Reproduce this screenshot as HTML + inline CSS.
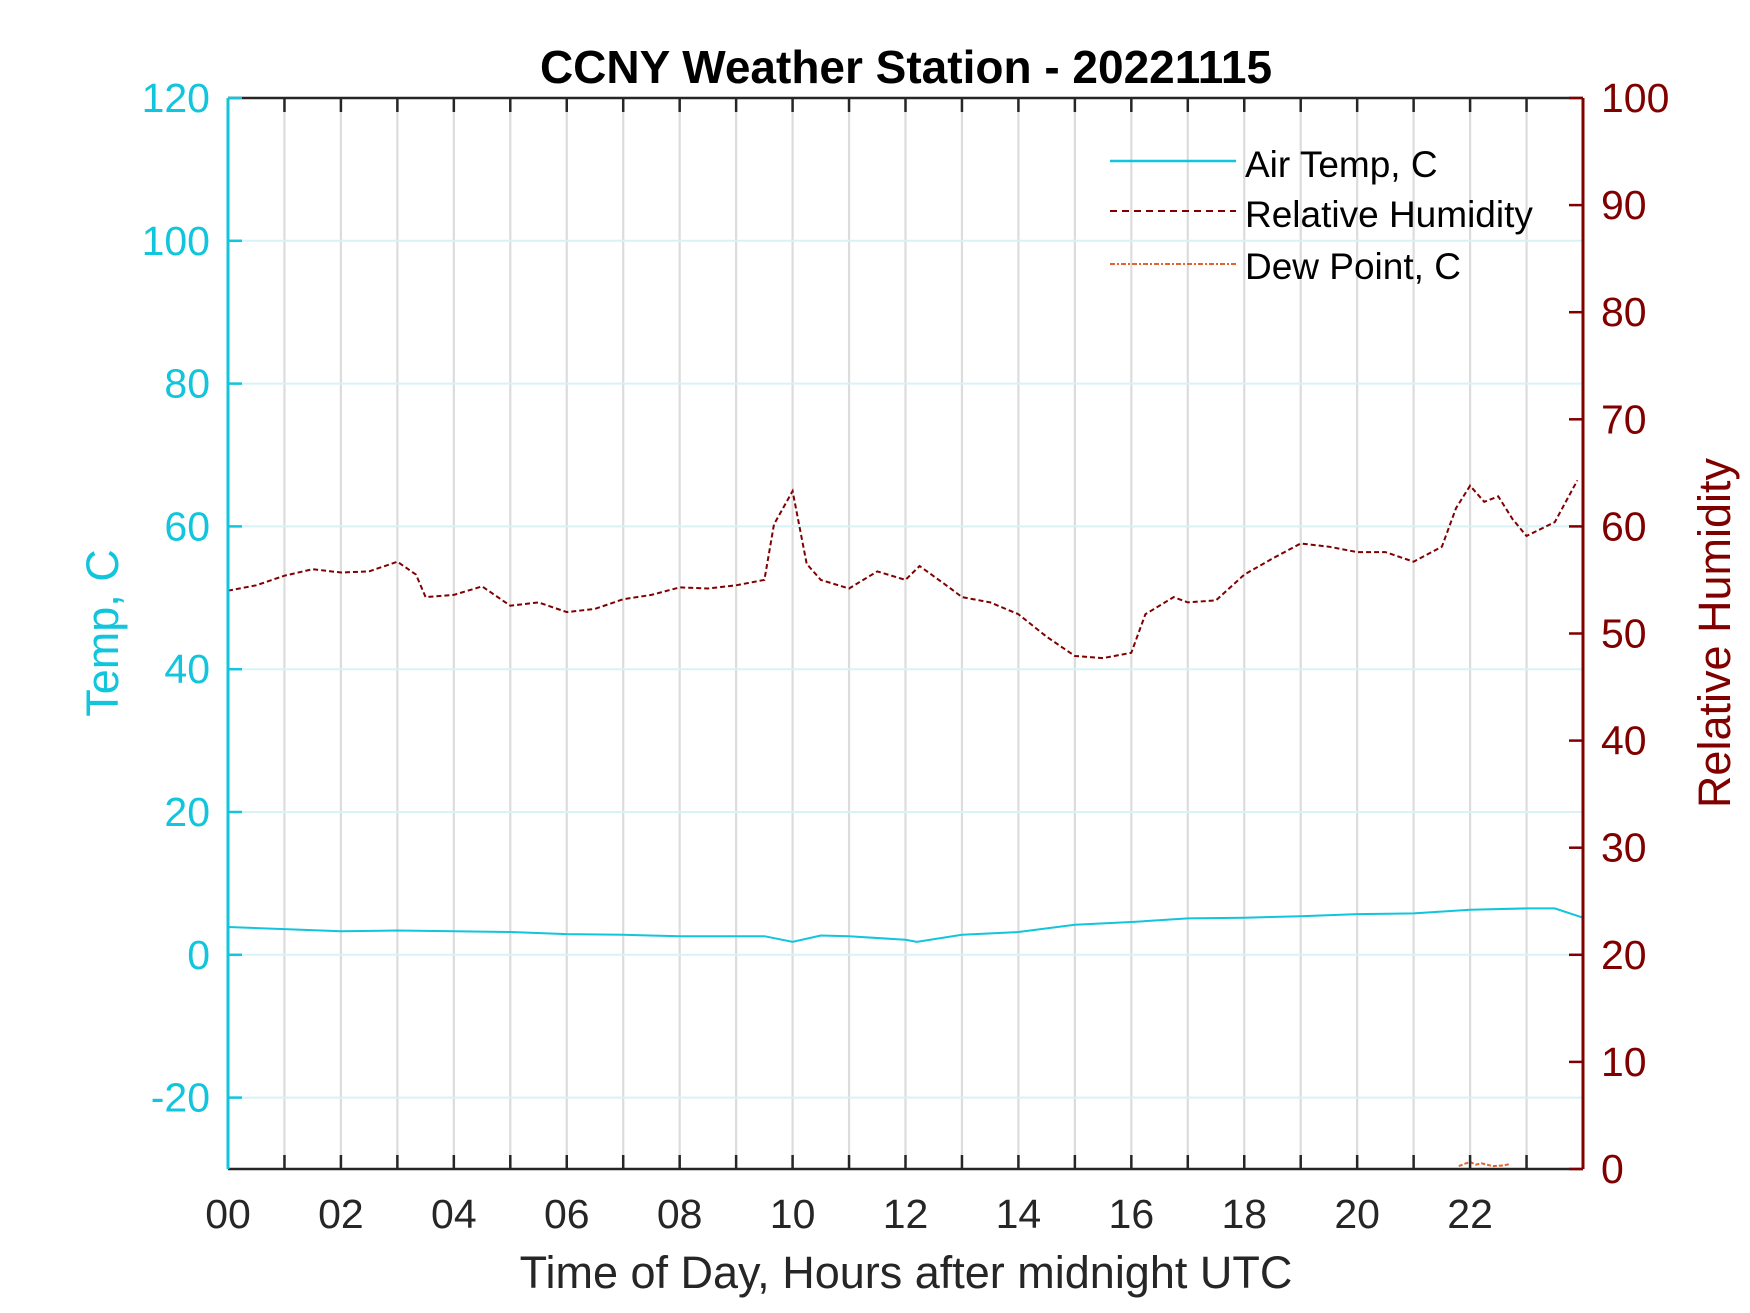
<!DOCTYPE html>
<html><head><meta charset="utf-8"><style>
html,body{margin:0;padding:0;background:#fff;}
svg{display:block;font-family:"Liberation Sans",Arial,sans-serif;}
</style></head><body>
<svg id="chart" width="1750" height="1313" viewBox="0 0 1750 1313" xmlns="http://www.w3.org/2000/svg">
<rect width="1750" height="1313" fill="#fff"/>
<g id="grid"></g>
<g id="series"></g>
<g id="axes"></g>
<text x="906" y="83" text-anchor="middle" font-size="46" font-weight="bold" fill="#000">CCNY Weather Station - 20221115</text>
<text x="906" y="1288" text-anchor="middle" font-size="45" fill="#262626">Time of Day, Hours after midnight UTC</text>
<text transform="translate(118,633) rotate(-90)" text-anchor="middle" font-size="45" fill="#11c5dc">Temp, C</text>
<text transform="translate(1730,633) rotate(-90)" text-anchor="middle" font-size="45" fill="#800000">Relative Humidity</text>
<g>
<line x1="1110" y1="161" x2="1236" y2="161" stroke="#11c5dc" stroke-width="2.5"/>
<text x="1245" y="177" font-size="37" fill="#000">Air Temp, C</text>
<line x1="1110" y1="211" x2="1236" y2="211" stroke="#800000" stroke-width="2" stroke-dasharray="7,5"/>
<text x="1245" y="227" font-size="37" fill="#000">Relative Humidity</text>
<line x1="1110" y1="264" x2="1236" y2="264" stroke="#e2642a" stroke-width="2" stroke-dasharray="5,2,2,2"/>
<text x="1245" y="279" font-size="37" fill="#000">Dew Point, C</text>
</g>
</svg>
<script>
const rhHours=[0,0.5,1,1.5,2,2.5,3,3.33,3.5,4,4.5,5,5.5,6,6.5,7,7.5,8,8.5,9,9.5,9.67,10,10.25,10.5,11,11.5,12,12.25,12.75,13,13.5,14,14.5,15,15.5,16,16.25,16.75,17,17.5,18,18.5,19,19.5,20,20.5,21,21.5,21.75,22,22.25,22.5,22.75,23,23.5,23.9];
const rhValues=[54,54.5,55.4,56,55.7,55.8,56.7,55.5,53.4,53.6,54.4,52.6,52.9,52,52.3,53.2,53.6,54.3,54.2,54.5,55,60.2,63.3,56.5,55,54.2,55.8,55,56.3,54.4,53.4,52.9,51.8,49.7,47.9,47.7,48.2,51.8,53.4,52.9,53.1,55.5,57,58.4,58.1,57.6,57.6,56.7,58.1,61.7,63.8,62.3,62.8,60.7,59.1,60.4,64.3];
const tHours=[0,1,2,3,4,5,6,7,8,9,9.5,10,10.5,11,12,12.2,13,14,15,16,17,18,19,20,21,22,23,23.5,24];
const tValues=[3.9,3.6,3.3,3.4,3.3,3.2,2.9,2.8,2.6,2.6,2.6,1.8,2.7,2.6,2.1,1.8,2.8,3.2,4.2,4.6,5.1,5.2,5.4,5.7,5.8,6.3,6.5,6.5,5.2];
const dpHours=[21.8,21.9,22.0,22.1,22.2,22.4,22.6,22.7];
const dpValues=[-29.6,-29.3,-29.0,-29.4,-29.2,-29.6,-29.5,-29.3];
const xTicks=[0,2,4,6,8,10,12,14,16,18,20,22];
const xTickLabels=["00","02","04","06","08","10","12","14","16","18","20","22"];
const tTicks=[-20,0,20,40,60,80,100,120];
const rhTicks=[0,10,20,30,40,50,60,70,80,90,100];

const L=228,R=1583,T=98,B=1169;
const xs=h=>L+(h/24)*(R-L);
const yT=v=>B-(v+30)/150*(B-T);
const yR=v=>B-v/100*(B-T);
const NS="http://www.w3.org/2000/svg";
function mk(tag,attrs,parent){const e=document.createElementNS(NS,tag);for(const k in attrs)e.setAttribute(k,attrs[k]);parent.appendChild(e);return e;}
const gridG=document.getElementById('grid'),seriesG=document.getElementById('series'),axesG=document.getElementById('axes');

for(let h=1;h<24;h++){const l=mk('line',{x1:xs(h),x2:xs(h),y1:T,y2:B,stroke:'#dcdcdc','stroke-width':2.2},gridG);

}
tTicks.forEach(v=>{const l=mk('line',{x1:L,x2:R,y1:yT(v),y2:yT(v),stroke:'#d8f2f6','stroke-width':2},gridG);

});

function pathD(hs,vs,yf){return hs.map((h,i)=>(i?'L':'M')+xs(h).toFixed(1)+','+yf(vs[i]).toFixed(1)).join(' ');}
const pt=mk('path',{d:pathD(tHours,tValues,yT),fill:'none',stroke:'#11c5dc','stroke-width':2},seriesG);


const pr=mk('path',{d:pathD(rhHours,rhValues,yR),fill:'none',stroke:'#800000','stroke-width':2,'stroke-dasharray':'5,3'},seriesG);


const pd=mk('path',{d:pathD(dpHours,dpValues,yT),fill:'none',stroke:'#e2642a','stroke-width':2,'stroke-dasharray':'4,2'},seriesG);



const topLine=mk('line',{x1:L,x2:R,y1:T,y2:T,stroke:'#262626','stroke-width':2.5},axesG);


const botLine=mk('line',{x1:L,x2:R,y1:B,y2:B,stroke:'#262626','stroke-width':2.5},axesG);


for(let h=1;h<24;h++){
 const a=mk('line',{x1:xs(h),x2:xs(h),y1:T,y2:T+14,stroke:'#262626','stroke-width':2.5},axesG);
 
 
 const b=mk('line',{x1:xs(h),x2:xs(h),y1:B,y2:B-14,stroke:'#262626','stroke-width':2.5},axesG);
 
 
}
xTicks.forEach((h,i)=>{const t=mk('text',{x:xs(h),y:1228,'text-anchor':'middle','font-size':41,fill:'#262626'},axesG);t.textContent=xTickLabels[i];

});
const la=mk('line',{x1:L,x2:L,y1:T,y2:B,stroke:'#11c5dc','stroke-width':3},axesG);


tTicks.forEach(v=>{const k=mk('line',{x1:L,x2:L+14,y1:yT(v),y2:yT(v),stroke:'#11c5dc','stroke-width':2.5},axesG);


const t=mk('text',{x:210,y:yT(v)+14,'text-anchor':'end','font-size':41,fill:'#11c5dc'},axesG);t.textContent=v;

});
const ra=mk('line',{x1:R,x2:R,y1:T,y2:B,stroke:'#800000','stroke-width':3},axesG);


rhTicks.forEach(v=>{const k=mk('line',{x1:R,x2:R-14,y1:yR(v),y2:yR(v),stroke:'#800000','stroke-width':2.5},axesG);


const t=mk('text',{x:1601,y:yR(v)+14,'text-anchor':'start','font-size':41,fill:'#800000'},axesG);t.textContent=v;

});
</script>
</body></html>
